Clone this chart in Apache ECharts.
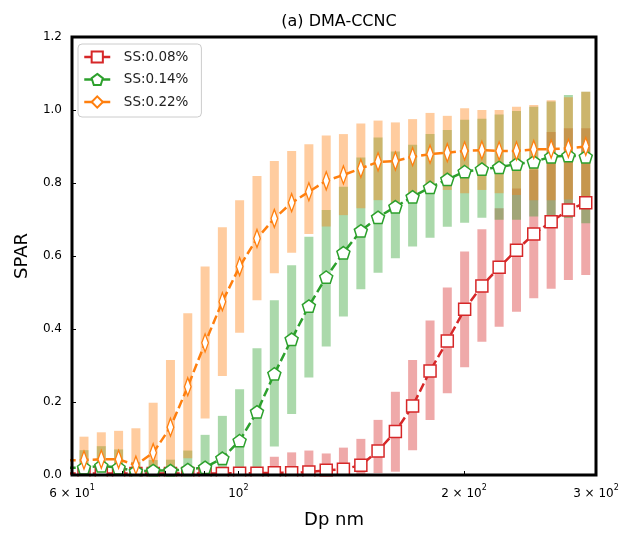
<!DOCTYPE html>
<html>
<head>
<meta charset="utf-8">
<script src="https://cdn.jsdelivr.net/npm/echarts@6/dist/echarts.min.js"></script>
<style>
  html, body { margin: 0; padding: 0; background: #fff; }
  #chart { width: 625px; height: 537px; }
</style>
</head>
<body>
<div id="chart"></div>
<script>
// Particle diameter (nm) of each size bin
const dp = [59.03, 62.25, 65.65, 69.23, 73.01, 76.99, 81.19, 85.62, 90.30, 95.22,
            100.4, 105.9, 111.7, 117.8, 124.2, 131.0, 138.1, 145.7, 153.6, 162.0,
            170.8, 180.2, 190.0, 200.4, 211.3, 222.8, 235.0, 247.8, 261.4, 275.6, 290.7];

// SS = 0.08 %
const ss008Mean = [0.004, 0.004, 0.004, 0.004, 0.004, 0.004, 0.004, 0.004, 0.004, 0.004,
                   0.005, 0.005, 0.006, 0.006, 0.008, 0.013, 0.016, 0.027, 0.066, 0.119,
                   0.189, 0.285, 0.367, 0.454, 0.518, 0.569, 0.616, 0.660, 0.694, 0.726, 0.746];
const ss008Low  = [0, 0, 0, 0, 0, 0, 0, 0, 0, 0,
                   0, 0, 0, 0, 0, 0, 0, 0, 0.005, 0.009,
                   0.068, 0.151, 0.224, 0.295, 0.365, 0.406, 0.447, 0.484, 0.510, 0.534, 0.548];
const ss008High = [0.010, 0.010, 0.010, 0.010, 0.010, 0.010, 0.010, 0.010, 0.010, 0.010,
                   0.010, 0.012, 0.050, 0.062, 0.067, 0.059, 0.075, 0.099, 0.151, 0.228,
                   0.315, 0.423, 0.514, 0.612, 0.673, 0.731, 0.785, 0.836, 0.940, 0.950, 0.950];

// SS = 0.14 %
const ss014Mean = [0.020, 0.020, 0.025, 0.020, 0.010, 0.012, 0.012, 0.015, 0.021, 0.046,
                   0.094, 0.173, 0.277, 0.372, 0.463, 0.542, 0.609, 0.669, 0.706, 0.735,
                   0.762, 0.788, 0.810, 0.831, 0.838, 0.843, 0.852, 0.858, 0.872, 0.875, 0.872];
const ss014Low  = [0, 0, 0, 0, 0, 0, 0, 0, 0, 0,
                   0, 0, 0.078, 0.167, 0.267, 0.352, 0.434, 0.509, 0.554, 0.594,
                   0.626, 0.650, 0.680, 0.691, 0.705, 0.699, 0.699, 0.708, 0.708, 0.704, 0.690];
const ss014High = [0.060, 0.068, 0.079, 0.070, 0.036, 0.041, 0.042, 0.067, 0.110, 0.162,
                   0.235, 0.347, 0.479, 0.575, 0.653, 0.726, 0.790, 0.870, 0.925, 0.886,
                   0.905, 0.934, 0.945, 0.973, 0.976, 0.988, 0.997, 1.009, 1.023, 1.041, 1.050];

// SS = 0.22 %
const ss022Mean = [0.040, 0.041, 0.043, 0.043, 0.027, 0.061, 0.131, 0.242, 0.362, 0.475,
                   0.571, 0.648, 0.703, 0.746, 0.776, 0.806, 0.822, 0.840, 0.858, 0.860,
                   0.872, 0.879, 0.883, 0.888, 0.890, 0.888, 0.888, 0.892, 0.893, 0.895, 0.900];
const ss022Low  = [0, 0, 0, 0, 0, 0, 0, 0.046, 0.155, 0.271,
                   0.390, 0.479, 0.553, 0.609, 0.660, 0.681, 0.712, 0.731, 0.753, 0.740,
                   0.767, 0.776, 0.781, 0.772, 0.781, 0.772, 0.767, 0.753, 0.753, 0.755, 0.753];
const ss022High = [0.100, 0.105, 0.117, 0.121, 0.128, 0.198, 0.315, 0.443, 0.571, 0.679,
                   0.753, 0.819, 0.860, 0.888, 0.906, 0.930, 0.934, 0.963, 0.971, 0.966,
                   0.975, 0.992, 0.984, 1.005, 1.000, 1.000, 1.009, 1.014, 1.027, 1.035, 1.050];

const seriesNames = ['SS:0.08%', 'SS:0.14%', 'SS:0.22%'];
const xTickValues = [60, 100, 200, 300];
const xMinorTicks = [60, 70, 80, 90, 100, 200, 300];

const RED = '#d62728', GREEN = '#2ca02c', ORANGE = '#ff7f0e';
const PENTAGON = 'path://M0,-10 L9.51,-3.09 L5.88,8.09 L-5.88,8.09 L-9.51,-3.09 Z';
const THIN_DIAMOND = 'path://M0,-10 L6,0 L0,10 L-6,0 Z';

const chart = echarts.init(document.getElementById('chart'), null, { renderer: 'canvas' });

function pairs(ys) { return dp.map((x, i) => [x, ys[i]]); }
function ranges(lo, hi) { return dp.map((x, i) => [x, lo[i], hi[i]]); }

// Thick translucent bar spanning the spread of each size bin
function spreadBar(fill) {
  return function (params, api) {
    const x = api.value(0);
    const pLo = api.coord([x, api.value(1)]);
    const pHi = api.coord([x, api.value(2)]);
    const w = 9;
    const cs = params.coordSys;
    const rect = echarts.graphic.clipRectByRect(
      { x: pLo[0] - w / 2, y: pHi[1], width: w, height: pLo[1] - pHi[1] },
      { x: cs.x, y: cs.y, width: cs.width, height: cs.height }
    );
    if (!rect) return;
    return { type: 'rect', shape: rect, style: { fill: fill } };
  };
}

function spreadSeries(name, lo, hi, fill) {
  return {
    type: 'custom', name: name, data: ranges(lo, hi),
    encode: { x: 0, y: [1, 2] }, renderItem: spreadBar(fill), z: 1, silent: true
  };
}

function meanSeries(name, ys, color, symbol, size) {
  return {
    type: 'line', name: name, data: pairs(ys), z: 3,
    symbol: symbol, symbolSize: size, symbolKeepAspect: true, showAllSymbol: true,
    clip: true,
    lineStyle: { color: color, width: 2.5, type: [9, 4] },
    itemStyle: { color: '#fff', borderColor: color, borderWidth: 1.5 },
    emphasis: { disabled: true }
  };
}

function xLabel(v) {
  const r = Math.round(v);
  if (r === 100) return '{b|10}{s|2}';
  if (r === 60) return '{b|6 × 10}{s|1}';
  if (r === 200) return '{b|2 × 10}{s|2}';
  if (r === 300) return '{b|3 × 10}{s|2}';
  return '';
}

chart.setOption({
  animation: false,
  backgroundColor: '#fff',
  textStyle: { fontFamily: 'DejaVu Sans' },
  title: {
    text: '(a) DMA-CCNC', left: 334, top: 9, textAlign: 'center',
    textStyle: { fontFamily: 'DejaVu Sans', fontSize: 16, fontWeight: 'normal', color: '#000' }
  },
  legend: {
    data: seriesNames, orient: 'vertical', left: 78, top: 44, z: 20,
    padding: [6, 13, 8, 5], itemGap: 8.5, itemWidth: 26, itemHeight: 14,
    backgroundColor: '#fff', borderColor: '#cccccc', borderWidth: 1, borderRadius: 4,
    lineStyle: { type: 'solid', width: 2.5 },
    formatter: name => '  ' + name,
    textStyle: { fontFamily: 'DejaVu Sans', fontSize: 13.5, lineHeight: 14, color: '#222' }
  },
  grid: {
    left: 72, right: 29, top: 37, bottom: 62, show: true, z: 10,
    borderColor: '#000', borderWidth: 3, backgroundColor: 'transparent'
  },
  // white strip under the frame so markers sitting on the baseline are cut at the axis
  graphic: [{
    type: 'rect', z: 5, silent: true,
    shape: { x: 60, y: 476.5, width: 550, height: 6 },
    style: { fill: '#fff' }
  }],
  xAxis: {
    type: 'log', logBase: 10, min: 60, max: 300, z: 12,
    name: 'Dp nm', nameLocation: 'middle', nameGap: 36,
    nameTextStyle: { fontFamily: 'DejaVu Sans', fontSize: 18, color: '#000' },
    axisLine: { show: false },
    axisTick: { show: true, inside: true, length: 4, customValues: xMinorTicks, lineStyle: { color: '#000' } },
    axisLabel: {
      customValues: xTickValues, formatter: xLabel, margin: 9, color: '#000',
      rich: {
        b: { fontFamily: 'DejaVu Sans', fontSize: 12, color: '#000', lineHeight: 16, verticalAlign: 'bottom' },
        s: { fontFamily: 'DejaVu Sans', fontSize: 8, color: '#000', lineHeight: 16, verticalAlign: 'top', padding: [0, 0, 6, 0] }
      }
    },
    splitLine: { show: false }
  },
  yAxis: {
    type: 'value', min: 0, max: 1.2, interval: 0.2, z: 12,
    name: 'SPAR', nameLocation: 'middle', nameGap: 41, nameRotate: 90,
    nameTextStyle: { fontFamily: 'DejaVu Sans', fontSize: 18, color: '#000' },
    axisLine: { show: false },
    axisTick: { show: true, inside: true, length: 4, lineStyle: { color: '#000' } },
    axisLabel: { formatter: v => v.toFixed(1), fontFamily: 'DejaVu Sans', fontSize: 12, color: '#000', margin: 10 },
    splitLine: { show: false }
  },
  series: [
    spreadSeries('SS:0.08% spread', ss008Low, ss008High, 'rgba(214,39,40,0.4)'),
    spreadSeries('SS:0.14% spread', ss014Low, ss014High, 'rgba(44,160,44,0.4)'),
    spreadSeries('SS:0.22% spread', ss022Low, ss022High, 'rgba(255,127,14,0.4)'),
    meanSeries(seriesNames[0], ss008Mean, RED, 'rect', 12),
    meanSeries(seriesNames[1], ss014Mean, GREEN, PENTAGON, 13),
    meanSeries(seriesNames[2], ss022Mean, ORANGE, THIN_DIAMOND, [11, 18])
  ]
});
</script>
</body>
</html>
